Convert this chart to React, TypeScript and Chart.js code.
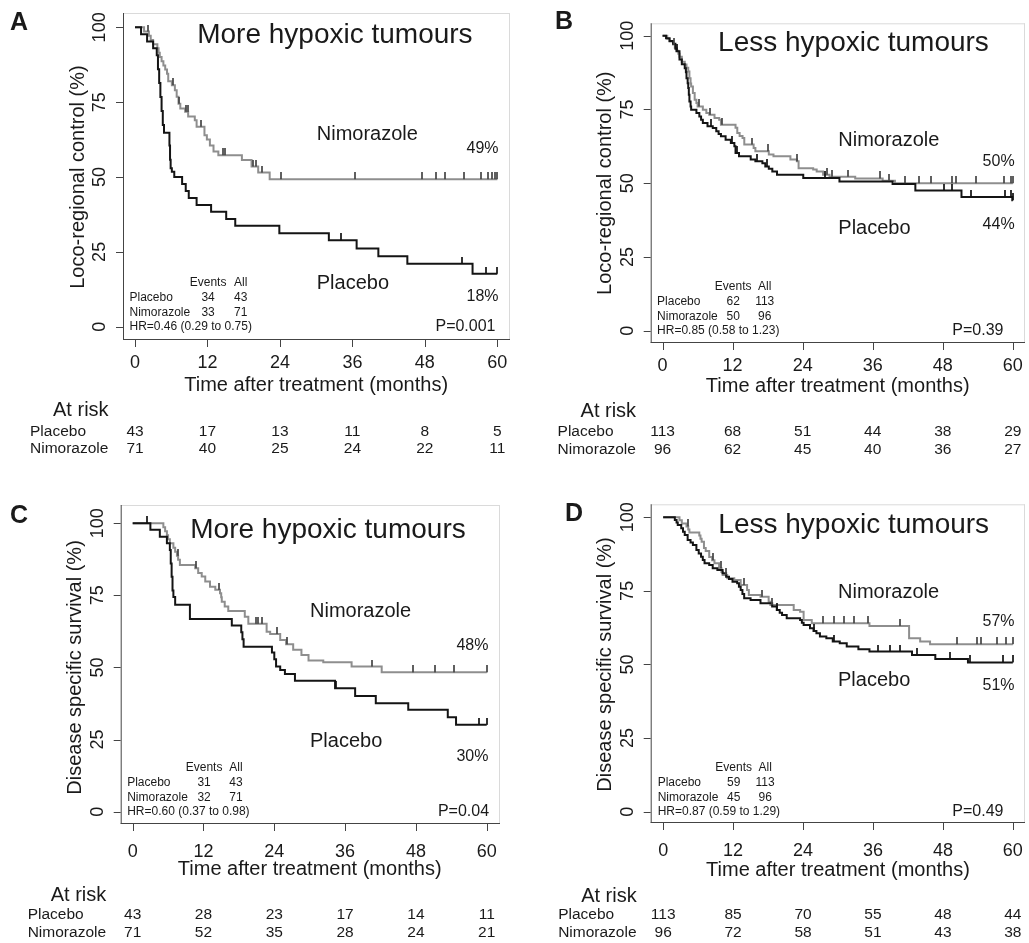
import React, { useEffect, useRef } from 'react';
import { Chart, registerables } from 'chart.js';

Chart.register(...registerables);

type Pt = [number, number];

// ---------- shared axis values ----------
const timeTicks = [0, 12, 24, 36, 48, 60];
const pctTicks = [0, 25, 50, 75, 100];

// ---------- Panel A: loco-regional control, more hypoxic ----------
const aPlacebo: Pt[] = [[0,100],[1.0,97.7],[2.0,95.3],[3.0,93.0],[3.6,90.7],[3.8,86.0],[4.0,81.4],[4.2,76.7],[4.4,72.1],[4.6,67.4],[4.8,64.8],[5.7,60.5],[5.8,55.8],[5.9,52.9],[6.1,51.8],[6.5,50.0],[7.8,47.7],[8.4,45.3],[8.9,43.0],[10.2,40.7],[12.6,38.4],[15.1,36.0],[16.6,33.7],[23.9,31.2],[32.1,28.9],[36.7,26.1],[40.3,23.5],[45.1,21.0],[55.9,17.7],[60,17.7]];
const aNimorazole: Pt[] = [[0,100],[1.5,98.6],[2.3,97.2],[2.6,95.8],[3.0,94.4],[3.7,93.0],[3.9,91.5],[4.1,90.1],[4.4,88.7],[4.7,87.3],[5.0,85.9],[5.3,84.5],[5.5,82.0],[6.1,80.7],[6.6,79.0],[6.9,76.8],[7.2,74.5],[7.5,72.9],[8.3,71.8],[8.8,70.2],[9.9,69.0],[10.2,66.8],[11.5,64.0],[11.9,62.5],[12.4,60.5],[13.0,58.5],[13.8,57.3],[17.7,55.7],[19.3,53.5],[20.4,51.5],[22.3,49.3],[60,49.3]];
const aPlaceboCensor = [34.1, 54.1, 58.2, 60];
const aNimorazoleCensor = [2.1, 6.3, 7.3, 8.4, 8.7, 11.0, 14.6, 14.9, 19.6, 20.0, 21.0, 24.2, 36.5, 47.5, 49.8, 51.3, 54.4, 57.3, 58.4, 59.2, 59.6, 60];
const aRiskPlacebo = [43, 17, 13, 11, 8, 5];
const aRiskNimorazole = [71, 40, 25, 24, 22, 11];

// ---------- Panel B: loco-regional control, less hypoxic ----------
const bPlacebo: Pt[] = [[0,100],[0.6,99.1],[1.2,98.2],[1.8,97.3],[2.2,95.6],[2.4,94.7],[2.9,91.9],[3.3,90.3],[3.8,89.0],[4.0,87.6],[4.1,85.6],[4.3,83.9],[4.4,82.3],[4.5,80.0],[4.6,77.7],[4.8,76.0],[4.9,74.9],[5.8,73.8],[6.3,72.6],[6.6,71.5],[6.9,70.4],[7.7,69.3],[8.6,68.7],[9.2,67.6],[9.6,66.7],[10.0,65.9],[10.8,64.7],[11.7,63.6],[12.3,62.5],[12.5,60.2],[13.1,59.1],[15.1,58.0],[15.9,57.4],[17.1,56.8],[17.6,55.7],[18.2,54.9],[18.8,54.0],[19.6,52.9],[24.1,51.8],[30.3,50.6],[39.4,49.7],[43.3,47.5],[51.2,45.3],[59.9,44.2],[60,44.2]];
const bNimorazole: Pt[] = [[0,100],[0.8,99.0],[1.2,98.0],[1.8,97.0],[2.1,95.9],[2.4,94.9],[2.7,93.9],[2.9,92.9],[3.3,91.2],[3.8,90.2],[4.1,89.1],[4.4,87.9],[4.6,85.6],[4.8,83.8],[4.9,82.8],[5.2,80.6],[5.5,78.3],[5.8,77.2],[6.0,76.0],[6.9,74.9],[7.5,73.8],[8.0,73.2],[8.9,72.1],[9.7,71.5],[10.0,69.8],[12.5,68.8],[12.8,67.0],[13.2,66.0],[13.7,65.3],[14.0,63.1],[15.6,61.9],[15.9,60.8],[18.2,59.7],[19.0,59.1],[21.9,58.0],[23.0,57.4],[23.3,55.1],[25.8,54.6],[26.4,54.0],[27.5,52.9],[28.6,52.2],[33.0,51.6],[37.7,50.8],[39.8,50.0],[60,50.0]];
const bPlaceboCensor = [2.5, 8.3, 11.9, 12.8, 16.2, 17.9, 27.8, 48.2, 49.5, 52.9, 58.6, 59.7, 60];
const bNimorazoleCensor = [1.9, 6.2, 8.2, 10.2, 15.4, 18.0, 23.1, 28.1, 29.0, 31.8, 37.3, 38.8, 41.6, 43.9, 45.9, 49.5, 50.3, 53.7, 58.4, 59.7, 60];
const bRiskPlacebo = [113, 68, 51, 44, 38, 29];
const bRiskNimorazole = [96, 62, 45, 40, 36, 27];

// ---------- Panel C: disease specific survival, more hypoxic ----------
const cPlacebo: Pt[] = [[0,100],[3.0,97.7],[4.6,95.3],[5.8,93.0],[6.3,90.7],[6.45,86.0],[6.6,81.4],[6.75,76.7],[6.9,74.4],[7.2,71.7],[9.7,66.8],[16.8,64.5],[18.4,62.2],[18.6,59.8],[18.8,57.2],[23.6,55.2],[24.0,52.8],[24.3,50.3],[25.0,49.1],[25.8,47.7],[27.5,45.4],[34.3,42.8],[37.7,40.1],[41.2,37.6],[46.7,35.3],[53.4,32.7],[54.8,30.1],[60,30.1]];
const cNimorazole: Pt[] = [[0,100],[5.2,98.6],[5.5,97.2],[5.8,95.8],[6.0,94.4],[6.3,93.0],[6.9,91.5],[7.2,90.1],[7.5,88.7],[7.7,87.3],[8.0,85.5],[10.6,84.4],[11.1,82.7],[11.7,81.5],[12.3,79.8],[13.1,78.0],[14.0,76.9],[14.8,75.7],[15.0,74.3],[15.1,72.8],[15.6,71.1],[16.2,69.6],[19.0,67.6],[19.6,65.1],[22.7,62.4],[23.3,61.6],[25.0,59.5],[26.0,58.0],[27.2,56.1],[28.6,54.3],[29.8,52.4],[32.3,51.8],[37.1,50.3],[42.2,48.3],[60,48.3]];
const cPlaceboCensor = [2.5, 34.4, 58.7, 60];
const cNimorazoleCensor = [7.6, 10.8, 14.7, 20.9, 21.2, 21.9, 24.4, 26.1, 40.5, 47.5, 51.2, 54.5, 60];
const cRiskPlacebo = [43, 28, 23, 17, 14, 11];
const cRiskNimorazole = [71, 52, 35, 28, 24, 21];

// ---------- Panel D: disease specific survival, less hypoxic ----------
const dPlacebo: Pt[] = [[0,100],[2.0,99.1],[2.3,98.2],[2.5,97.4],[3.1,96.3],[3.4,95.1],[3.7,94.0],[4.2,92.3],[4.7,91.4],[5.1,90.6],[5.7,88.9],[6.1,87.7],[6.5,86.6],[6.8,85.5],[7.1,84.4],[7.9,83.8],[8.5,82.7],[9.3,82.1],[10.2,81.0],[10.8,79.8],[11.3,79.0],[11.9,78.1],[12.7,77.6],[13.0,76.4],[13.3,75.3],[13.6,73.9],[13.9,72.5],[15.0,71.9],[16.7,70.8],[18.7,69.7],[19.5,68.5],[20.0,67.6],[20.4,66.8],[21.2,65.7],[23.5,65.1],[23.8,64.2],[24.1,63.4],[25.2,62.3],[25.8,61.4],[26.3,60.6],[26.9,59.5],[28.0,58.9],[29.1,57.8],[30.3,57.2],[31.5,56.1],[33.5,55.2],[35.4,54.4],[42.7,53.2],[46.7,51.9],[52.3,50.7],[60,50.7]];
const dNimorazole: Pt[] = [[0,100],[2.8,99.0],[3.2,97.9],[4.0,96.9],[4.3,95.8],[4.5,94.8],[6.2,93.8],[6.4,92.7],[6.6,91.7],[7.0,89.6],[7.3,88.5],[7.9,86.5],[8.4,85.4],[8.8,84.4],[9.6,82.7],[10.0,81.4],[10.2,80.4],[11.0,79.3],[12.2,78.7],[13.3,77.0],[14.4,75.3],[14.7,73.6],[16.7,73.0],[18.1,71.3],[18.4,70.2],[22.4,68.5],[23.5,67.9],[24.1,65.1],[25.5,64.0],[35.4,63.1],[42.2,58.9],[44.1,57.8],[45.8,56.9],[60,56.9]];
const dPlaceboCensor = [19.6, 25.9, 29.4, 36.8, 39.0, 40.7, 43.6, 49.2, 52.6, 58.3, 60];
const dNimorazoleCensor = [4.2, 8.6, 9.9, 10.8, 13.9, 17.0, 18.6, 27.4, 29.4, 31.0, 32.8, 35.1, 40.7, 50.4, 53.8, 54.6, 57.2, 58.9, 60];
const dRiskPlacebo = [113, 85, 70, 55, 48, 44];
const dRiskNimorazole = [96, 72, 58, 51, 43, 38];

// ---------- styling / layout ----------
const FONT = '"Liberation Sans", Arial, Helvetica, sans-serif';
const INK = '#1a1a1a';
const BLACK_LINE = '#141414';
const GREY_LINE = '#8e8e8e';

interface Note { text: string; x: number; y: number; align: CanvasTextAlign; size: number; }

interface PanelDef {
  letter: string; letterPos: [number, number];
  rect: { left: number; top: number; width: number; height: number };
  padding: { left: number; top: number; right: number; bottom: number };
  xRange: [number, number]; yRange: [number, number];
  yTitle: string;
  off: { xLab: number; xTitle: number; riskHead: number; row1: number; row2: number };
  placebo: Pt[]; nimorazole: Pt[]; placeboCensor: number[]; nimorazoleCensor: number[];
  riskPlacebo: number[]; riskNimorazole: number[];
  events: [number, number][]; hr: string;
  notes: Note[];
}

const panels: PanelDef[] = [
  {
    letter: 'A', letterPos: [10, 23.5],
    rect: { left: 0, top: 0, width: 515, height: 470 },
    padding: { left: 123, top: 13, right: 5, bottom: 130 },
    xRange: [-1.99, 62.1], yRange: [-4.44, 104.8],
    yTitle: 'Loco-regional control (%)',
    off: { xLab: 23, xTitle: 45, riskHead: 70, row1: 91.5, row2: 109 },
    placebo: aPlacebo, nimorazole: aNimorazole, placeboCensor: aPlaceboCensor, nimorazoleCensor: aNimorazoleCensor,
    riskPlacebo: aRiskPlacebo, riskNimorazole: aRiskNimorazole,
    events: [[34, 43], [33, 71]], hr: 'HR=0.46 (0.29 to 0.75)',
    notes: [
      { text: 'More hypoxic tumours', x: 33.1, y: 97.3, align: 'center', size: 28 },
      { text: 'Nimorazole', x: 30.1, y: 64.1, align: 'left', size: 20 },
      { text: 'Placebo', x: 30.1, y: 14.5, align: 'left', size: 20 },
      { text: '49%', x: 60.2, y: 59.5, align: 'right', size: 16 },
      { text: '18%', x: 60.2, y: 9.9, align: 'right', size: 16 },
      { text: 'P=0.001', x: 59.7, y: 0, align: 'right', size: 16 },
    ],
  },
  {
    letter: 'B', letterPos: [40, 22.5],
    rect: { left: 515, top: 0, width: 514, height: 470 },
    padding: { left: 135.7, top: 23.3, right: 0, bottom: 127 },
    xRange: [-2.03, 62.08], yRange: [-4.17, 104.2],
    yTitle: 'Loco-regional control (%)',
    off: { xLab: 22.7, xTitle: 43.5, riskHead: 68.7, row1: 88.7, row2: 106.3 },
    placebo: bPlacebo, nimorazole: bNimorazole, placeboCensor: bPlaceboCensor, nimorazoleCensor: bNimorazoleCensor,
    riskPlacebo: bRiskPlacebo, riskNimorazole: bRiskNimorazole,
    events: [[62, 113], [50, 96]], hr: 'HR=0.85 (0.58 to 1.23)',
    notes: [
      { text: 'Less hypoxic tumours', x: 32.7, y: 97.3, align: 'center', size: 28 },
      { text: 'Nimorazole', x: 30.1, y: 64.6, align: 'left', size: 20 },
      { text: 'Placebo', x: 30.1, y: 34.7, align: 'left', size: 20 },
      { text: '50%', x: 60.3, y: 57.3, align: 'right', size: 16 },
      { text: '44%', x: 60.3, y: 35.8, align: 'right', size: 16 },
      { text: 'P=0.39', x: 58.4, y: 0, align: 'right', size: 16 },
    ],
  },
  {
    letter: 'C', letterPos: [10, 45.8],
    rect: { left: 0, top: 470, width: 515, height: 473 },
    padding: { left: 120.7, top: 35, right: 15, bottom: 119 },
    xRange: [-2.03, 62.25], yRange: [-4.26, 106.3],
    yTitle: 'Disease specific survival (%)',
    off: { xLab: 27.7, xTitle: 45.5, riskHead: 71, row1: 91, row2: 108.7 },
    placebo: cPlacebo, nimorazole: cNimorazole, placeboCensor: cPlaceboCensor, nimorazoleCensor: cNimorazoleCensor,
    riskPlacebo: cRiskPlacebo, riskNimorazole: cRiskNimorazole,
    events: [[31, 43], [32, 71]], hr: 'HR=0.60 (0.37 to 0.98)',
    notes: [
      { text: 'More hypoxic tumours', x: 33.1, y: 97.4, align: 'center', size: 28 },
      { text: 'Nimorazole', x: 30.05, y: 69.3, align: 'left', size: 20 },
      { text: 'Placebo', x: 30.05, y: 24.3, align: 'left', size: 20 },
      { text: '48%', x: 60.3, y: 57.4, align: 'right', size: 16 },
      { text: '30%', x: 60.3, y: 19.2, align: 'right', size: 16 },
      { text: 'P=0.04', x: 60.4, y: 0, align: 'right', size: 16 },
    ],
  },
  {
    letter: 'D', letterPos: [50, 44.2],
    rect: { left: 515, top: 470, width: 514, height: 473 },
    padding: { left: 135.7, top: 34.3, right: 0, bottom: 120 },
    xRange: [-2.14, 62.09], yRange: [-3.84, 104.4],
    yTitle: 'Disease specific survival (%)',
    off: { xLab: 28, xTitle: 47, riskHead: 73, row1: 92, row2: 110 },
    placebo: dPlacebo, nimorazole: dNimorazole, placeboCensor: dPlaceboCensor, nimorazoleCensor: dNimorazoleCensor,
    riskPlacebo: dRiskPlacebo, riskNimorazole: dRiskNimorazole,
    events: [[59, 113], [45, 96]], hr: 'HR=0.87 (0.59 to 1.29)',
    notes: [
      { text: 'Less hypoxic tumours', x: 32.7, y: 97.4, align: 'center', size: 28 },
      { text: 'Nimorazole', x: 30.0, y: 74.4, align: 'left', size: 20 },
      { text: 'Placebo', x: 30.0, y: 44.5, align: 'left', size: 20 },
      { text: '57%', x: 60.3, y: 64.5, align: 'right', size: 16 },
      { text: '51%', x: 60.3, y: 42.7, align: 'right', size: 16 },
      { text: 'P=0.49', x: 58.4, y: 0, align: 'right', size: 16 },
    ],
  },
];

function levelAt(curve: Pt[], t: number): number {
  let v = curve[0][1];
  for (const [x, y] of curve) {
    if (x <= t) v = y; else break;
  }
  return v;
}

function makeTick(color: string, len: number): HTMLCanvasElement {
  const c = document.createElement('canvas');
  c.width = 2;
  c.height = len * 2;
  const g = c.getContext('2d')!;
  g.globalAlpha = 0.85;
  g.fillStyle = color;
  g.fillRect(0, 0, 2, len);
  return c;
}

function txt(ctx: CanvasRenderingContext2D, s: string, x: number, y: number, size: number,
  align: CanvasTextAlign = 'left', bold = false, rotate = false) {
  ctx.save();
  ctx.font = `${bold ? 'bold ' : ''}${size}px ${FONT}`;
  ctx.fillStyle = INK;
  ctx.textAlign = align;
  ctx.textBaseline = 'middle';
  if (rotate) {
    ctx.translate(x, y);
    ctx.rotate(-Math.PI / 2);
    ctx.fillText(s, 0, 0);
  } else {
    ctx.fillText(s, x, y);
  }
  ctx.restore();
}

function buildChart(canvas: HTMLCanvasElement, p: PanelDef): Chart {
  const tickBlack = makeTick('#111111', 7);
  const tickGrey = makeTick('#444444', 7);

  const decor = {
    id: 'kmDecor' + p.letter,
    beforeDatasetsDraw(chart: any) {
      const ctx: CanvasRenderingContext2D = chart.ctx;
      const a = chart.chartArea;
      ctx.save();
      ctx.lineWidth = 1;
      ctx.strokeStyle = '#dadada';
      ctx.beginPath();
      ctx.moveTo(a.left, a.top + 0.5); ctx.lineTo(a.right, a.top + 0.5);
      ctx.moveTo(a.right - 0.5, a.top); ctx.lineTo(a.right - 0.5, a.bottom);
      ctx.stroke();
      ctx.strokeStyle = '#444444';
      ctx.beginPath();
      ctx.moveTo(a.left + 0.5, a.top); ctx.lineTo(a.left + 0.5, a.bottom);
      ctx.moveTo(a.left, a.bottom - 0.5); ctx.lineTo(a.right, a.bottom - 0.5);
      ctx.stroke();
      ctx.restore();
    },
    afterDraw(chart: any) {
      const ctx: CanvasRenderingContext2D = chart.ctx;
      const a = chart.chartArea;
      const xs = chart.scales.x;
      const ys = chart.scales.y;
      const px = (v: number) => xs.getPixelForValue(v);
      const py = (v: number) => ys.getPixelForValue(v);

      // axis ticks
      ctx.save();
      ctx.strokeStyle = '#444444';
      ctx.lineWidth = 1;
      ctx.beginPath();
      for (const v of pctTicks) {
        const y = Math.round(py(v)) + 0.5;
        ctx.moveTo(a.left - 7, y); ctx.lineTo(a.left, y);
      }
      for (const t of timeTicks) {
        const x = Math.round(px(t)) + 0.5;
        ctx.moveTo(x, a.bottom); ctx.lineTo(x, a.bottom + 7);
      }
      ctx.stroke();
      ctx.restore();

      // tick labels & titles
      for (const v of pctTicks) txt(ctx, String(v), a.left - 23, py(v), 18, 'center', false, true);
      txt(ctx, p.yTitle, a.left - 45, py(50), 20, 'center', false, true);
      for (const t of timeTicks) txt(ctx, String(t), px(t), a.bottom + p.off.xLab, 18, 'center');
      txt(ctx, 'Time after treatment (months)', px(30), a.bottom + p.off.xTitle, 20, 'center');

      // at risk table
      const x0 = px(0);
      txt(ctx, 'At risk', x0 - 82, a.bottom + p.off.riskHead, 20, 'left');
      txt(ctx, 'Placebo', x0 - 105, a.bottom + p.off.row1, 15.5, 'left');
      txt(ctx, 'Nimorazole', x0 - 105, a.bottom + p.off.row2, 15.5, 'left');
      timeTicks.forEach((t, i) => {
        txt(ctx, String(p.riskPlacebo[i]), px(t), a.bottom + p.off.row1, 15.5, 'center');
        txt(ctx, String(p.riskNimorazole[i]), px(t), a.bottom + p.off.row2, 15.5, 'center');
      });

      // in-plot notes
      for (const n of p.notes) txt(ctx, n.text, px(n.x), py(n.y), n.size, n.align);

      // events table
      const yHR = py(0);
      const lx = x0 - 5.5;
      const c1 = px(12.1);
      const c2 = px(17.5);
      txt(ctx, 'Events', c1, yHR - 44, 12, 'center');
      txt(ctx, 'All', c2, yHR - 44, 12, 'center');
      txt(ctx, 'Placebo', lx, yHR - 29.5, 12, 'left');
      txt(ctx, String(p.events[0][0]), c1, yHR - 29.5, 12, 'center');
      txt(ctx, String(p.events[0][1]), c2, yHR - 29.5, 12, 'center');
      txt(ctx, 'Nimorazole', lx, yHR - 14.5, 12, 'left');
      txt(ctx, String(p.events[1][0]), c1, yHR - 14.5, 12, 'center');
      txt(ctx, String(p.events[1][1]), c2, yHR - 14.5, 12, 'center');
      txt(ctx, p.hr, lx, yHR, 12, 'left');

      // panel letter
      txt(ctx, p.letter, p.letterPos[0], p.letterPos[1], 25, 'left', true);
    },
  };

  const toXY = (c: Pt[]) => c.map(([x, y]) => ({ x, y }));
  const censorXY = (ts: number[], c: Pt[]) => ts.map((t) => ({ x: t, y: levelAt(c, t) }));

  return new Chart(canvas, {
    type: 'line',
    data: {
      datasets: [
        {
          label: 'Placebo censored', data: censorXY(p.placeboCensor, p.placebo) as any,
          showLine: false, pointStyle: tickBlack as any, pointRadius: 3, pointHoverRadius: 3,
        },
        {
          label: 'Nimorazole censored', data: censorXY(p.nimorazoleCensor, p.nimorazole) as any,
          showLine: false, pointStyle: tickGrey as any, pointRadius: 3, pointHoverRadius: 3,
        },
        {
          label: 'Placebo', data: toXY(p.placebo) as any, stepped: true,
          borderColor: BLACK_LINE, borderWidth: 2, pointRadius: 0, fill: false,
        },
        {
          label: 'Nimorazole', data: toXY(p.nimorazole) as any, stepped: true,
          borderColor: GREY_LINE, borderWidth: 2, pointRadius: 0, fill: false,
        },
      ],
    },
    options: {
      animation: false,
      responsive: false,
      maintainAspectRatio: false,
      events: [],
      layout: { padding: p.padding },
      scales: {
        x: { type: 'linear', display: false, min: p.xRange[0], max: p.xRange[1] },
        y: { type: 'linear', display: false, min: p.yRange[0], max: p.yRange[1] },
      },
      plugins: { legend: { display: false }, tooltip: { enabled: false }, title: { display: false } },
    },
    plugins: [decor as any],
  });
}

export default function App() {
  const refs = useRef<(HTMLCanvasElement | null)[]>([]);
  useEffect(() => {
    const charts: Chart[] = [];
    panels.forEach((p, i) => {
      const c = refs.current[i];
      if (c) charts.push(buildChart(c, p));
    });
    return () => charts.forEach((ch) => ch.destroy());
  }, []);
  return (
    <div style={{ position: 'absolute', left: 0, top: 0, width: 1029, height: 943, background: '#ffffff', overflow: 'hidden' }}>
      {panels.map((p, i) => (
        <canvas
          key={p.letter}
          ref={(el) => { refs.current[i] = el; }}
          width={p.rect.width}
          height={p.rect.height}
          style={{ position: 'absolute', left: p.rect.left, top: p.rect.top, width: p.rect.width, height: p.rect.height }}
        />
      ))}
    </div>
  );
}
